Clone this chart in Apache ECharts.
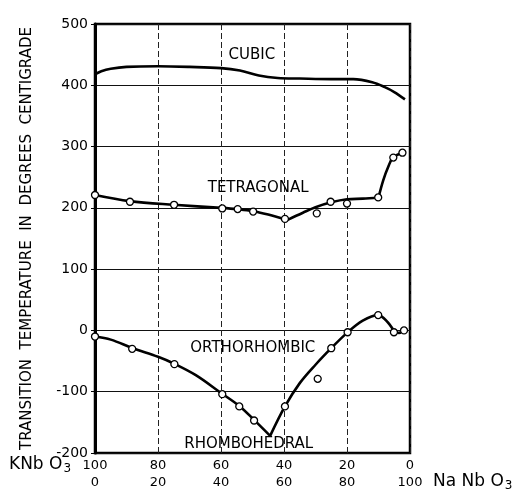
<!DOCTYPE html>
<html>
<head>
<meta charset="utf-8">
<script src="https://cdn.jsdelivr.net/npm/echarts@6/dist/echarts.min.js"></script>
<style>
  html, body { margin: 0; padding: 0; background: #fff; }
  #chart { width: 517px; height: 493px; }
</style>
</head>
<body>
<div id="chart"></div>
<script>
// mol % NaNbO3 along x, temperature (deg C) along y
var cubicX = [0, 2, 5, 10, 20, 30, 40, 46, 52, 58, 65, 75, 82, 88, 92, 95, 98.4];
var cubicY = [418, 423, 427, 430, 431, 430, 428, 424, 416, 412, 411, 410, 410, 405, 397, 389, 377];

var tetraAX = [0, 11, 25, 40, 45, 50, 55, 61];
var tetraAY = [221, 211, 205, 200, 198, 195, 189, 180];
var tetraBX = [61, 66, 70, 75, 80, 85, 90];
var tetraBY = [180, 192, 201, 209, 214, 215, 217];
var tetraCX = [90, 91.5, 93.1, 94.6, 97.6];
var tetraCY = [217, 245, 267, 282, 290];

var tetraPtsX = [0, 11.1, 25.1, 40.4, 45.3, 50.2, 60.3, 70.4, 74.8, 80, 89.9, 94.7, 97.6];
var tetraPtsY = [221, 210, 205, 199, 198, 194, 182, 191, 210, 207, 217, 282, 290];

var orthoAX = [0, 5, 12, 20, 25, 32, 40, 46, 50.5, 55.6];
var orthoAY = [-10, -15, -29, -43, -54, -73, -102, -124, -146, -172];
var orthoBX = [55.6, 60.3, 65, 70, 75, 80, 85, 89.9, 93, 95.2, 96.5, 98];
var orthoBY = [-172, -124, -86, -56, -29, -4, 16, 25, 13, -2, -4, 0];

var orthoPtsX = [0, 11.8, 25.2, 40.4, 45.8, 50.5, 60.3, 70.7, 75, 80.2, 89.9, 94.9, 98.1];
var orthoPtsY = [-10, -30, -55, -104, -124, -147, -124, -79, -29, -3, 25, -3, 0];

var phaseNames = ['CUBIC', 'TETRAGONAL', 'ORTHORHOMBIC', 'RHOMBOHEDRAL'];
var phaseX = [49.8, 51.8, 50.1, 48.8];
var phaseY = [449, 233, -29, -186];

var yTicks = [-200, -100, 0, 100, 200, 300, 400, 500];

function zip(xs, ys) {
  return xs.map(function (x, i) { return [x, ys[i]]; });
}

var FONT = 'DejaVu Sans';

function curve(xs, ys) {
  return {
    type: 'line', data: zip(xs, ys), smooth: 0.35, symbol: 'none',
    lineStyle: { color: '#000', width: 2.6 }, z: 3, silent: true
  };
}
function dots(xs, ys) {
  return {
    type: 'scatter', data: zip(xs, ys), symbol: 'circle', symbolSize: 7,
    itemStyle: { color: '#fff', borderColor: '#000', borderWidth: 1.3, opacity: 1 }, z: 5
  };
}

var chart = echarts.init(document.getElementById('chart'), null, { renderer: 'canvas' });
chart.setOption({
  backgroundColor: '#fff',
  animation: false,
  grid: { left: 95, right: 107, top: 24, bottom: 40, show: true, borderColor: '#000', borderWidth: 2.5 },
  xAxis: {
    type: 'value', min: 0, max: 100, interval: 20,
    axisLine: { show: false }, axisTick: { show: false },
    splitLine: { show: true, lineStyle: { color: '#222', width: 1, type: [6, 3] } },
    axisLabel: {
      margin: 4, color: '#000', fontFamily: FONT, fontSize: 13, lineHeight: 17,
      formatter: function (v) { return (100 - v) + '\n' + v; }
    }
  },
  yAxis: {
    type: 'value', min: yTicks[0], max: yTicks[yTicks.length - 1], interval: 100,
    name: 'TRANSITION  TEMPERATURE  IN  DEGREES  CENTIGRADE',
    nameLocation: 'middle', nameRotate: 90, nameGap: 60,
    nameTextStyle: { color: '#000', fontFamily: FONT, fontSize: 15 },
    axisLine: { show: true, lineStyle: { color: '#000', width: 3 } },
    axisTick: { show: true, length: 4, lineStyle: { color: '#000' } },
    splitLine: { show: true, lineStyle: { color: '#111', width: 1 } },
    axisLabel: { margin: 7, color: '#000', fontFamily: FONT, fontSize: 14 }
  },
  graphic: [
    {
      type: 'text', left: 9, top: 456,
      style: {
        text: '{a|KNb O}{s|3}', fill: '#000',
        rich: {
          a: { fontFamily: FONT, fontSize: 17, fill: '#000' },
          s: { fontFamily: FONT, fontSize: 12, fill: '#000', padding: [9, 0, 0, 1] }
        }
      }
    },
    {
      type: 'text', left: 433, top: 473,
      style: {
        text: '{a|Na Nb O}{s|3}', fill: '#000',
        rich: {
          a: { fontFamily: FONT, fontSize: 17, fill: '#000' },
          s: { fontFamily: FONT, fontSize: 12, fill: '#000', padding: [9, 0, 0, 1] }
        }
      }
    }
  ],
  series: [
    curve(cubicX, cubicY),
    curve(tetraAX, tetraAY),
    curve(tetraBX, tetraBY),
    curve(tetraCX, tetraCY),
    curve(orthoAX, orthoAY),
    curve(orthoBX, orthoBY),
    dots(tetraPtsX, tetraPtsY),
    dots(orthoPtsX, orthoPtsY),
    {
      type: 'scatter', symbolSize: 0, z: 6, silent: true,
      itemStyle: { opacity: 1 },
      data: phaseNames.map(function (n, i) { return { name: n, value: [phaseX[i], phaseY[i]] }; }),
      label: {
        show: true, position: 'inside', formatter: '{b}',
        color: '#000', fontFamily: FONT, fontSize: 15, textBorderWidth: 0
      }
    }
  ]
});
</script>
</body>
</html>
